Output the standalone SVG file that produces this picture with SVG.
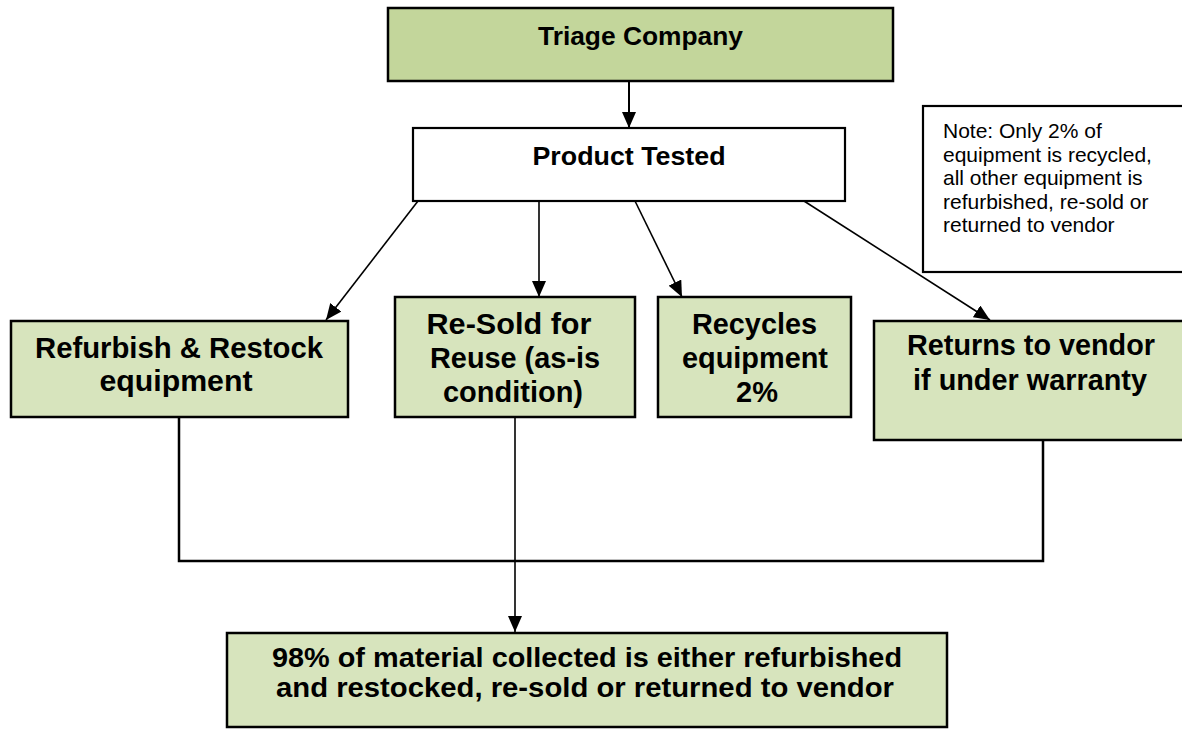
<svg xmlns="http://www.w3.org/2000/svg" width="1182" height="729" viewBox="0 0 1182 729">
<style>
.box{fill:#d7e4bd;stroke:#000;stroke-width:2.5}
.top{fill:#c3d69b;stroke:#000;stroke-width:2.5}
.plain{fill:#fff;stroke:#000;stroke-width:2.2}
.t{font-family:"Liberation Sans",Arial,sans-serif;font-weight:bold;fill:#000;text-anchor:middle}
.n{font-family:"Liberation Sans",Arial,sans-serif;font-size:21px;fill:#000}
.c{fill:none;stroke:#000;stroke-width:1.6}
.e{fill:none;stroke:#000;stroke-width:2.5}
</style>
<defs>
<marker id="ah" markerUnits="userSpaceOnUse" markerWidth="17" markerHeight="14" viewBox="0 0 17 14" refX="16" refY="7" orient="auto">
<path d="M0,0 L16,7 L0,14 Z" fill="#000"/>
</marker>
</defs>
<rect width="1182" height="729" fill="#fff"/>
<g id="connectors">
<line class="c" x1="629" y1="81" x2="629" y2="128" marker-end="url(#ah)" style="stroke-width:2"/>
<line class="c" x1="418" y1="201" x2="326" y2="320" marker-end="url(#ah)"/>
<line class="c" x1="539" y1="201" x2="539" y2="297" marker-end="url(#ah)"/>
<line class="c" x1="635" y1="201" x2="682" y2="297" marker-end="url(#ah)"/>
<line class="c" x1="804" y1="201" x2="990" y2="320" marker-end="url(#ah)"/>
<polyline class="e" points="179,417 179,561 1043,561 1043,440"/>
<line class="c" x1="515" y1="417" x2="515" y2="632" marker-end="url(#ah)"/>
</g>
<g id="triage">
<rect class="top" x="388" y="8" width="505" height="73"/>
<text class="t" x="640.5" y="45" font-size="26" textLength="205" lengthAdjust="spacingAndGlyphs">Triage Company</text>
</g>
<g id="tested">
<rect class="plain" x="413" y="128" width="432" height="73"/>
<text class="t" x="629" y="165" font-size="26" textLength="193" lengthAdjust="spacingAndGlyphs">Product Tested</text>
</g>
<g id="note">
<rect class="plain" x="923" y="106" width="270" height="166"/>
<text class="n" x="943" y="138">Note: Only 2% of</text>
<text class="n" x="943" y="161.5">equipment is recycled,</text>
<text class="n" x="943" y="185">all other equipment is</text>
<text class="n" x="943" y="208.5">refurbished, re-sold or</text>
<text class="n" x="943" y="232">returned to vendor</text>
</g>
<g id="refurbish">
<rect class="box" x="11" y="321" width="337" height="96"/>
<text class="t" x="179" y="358" font-size="29" textLength="288" lengthAdjust="spacingAndGlyphs">Refurbish &amp; Restock</text>
<text class="t" x="176" y="391" font-size="29" textLength="153" lengthAdjust="spacingAndGlyphs">equipment</text>
</g>
<g id="resold">
<rect class="box" x="395" y="297" width="240" height="120"/>
<text class="t" x="509" y="334" font-size="29" textLength="165" lengthAdjust="spacingAndGlyphs">Re-Sold for</text>
<text class="t" x="515" y="368" font-size="29" textLength="170" lengthAdjust="spacingAndGlyphs">Reuse (as-is</text>
<text class="t" x="513" y="402" font-size="29" textLength="140" lengthAdjust="spacingAndGlyphs">condition)</text>
</g>
<g id="recycles">
<rect class="box" x="658" y="297" width="193" height="120"/>
<text class="t" x="754.5" y="334" font-size="29" textLength="125" lengthAdjust="spacingAndGlyphs">Recycles</text>
<text class="t" x="755" y="368" font-size="29" textLength="146" lengthAdjust="spacingAndGlyphs">equipment</text>
<text class="t" x="757" y="402" font-size="29">2%</text>
</g>
<g id="returns">
<rect class="box" x="874" y="321" width="320" height="119"/>
<text class="t" x="1031" y="355" font-size="29" textLength="248" lengthAdjust="spacingAndGlyphs">Returns to vendor</text>
<text class="t" x="1030" y="390" font-size="29" textLength="234" lengthAdjust="spacingAndGlyphs">if under warranty</text>
</g>
<g id="result">
<rect class="box" x="227" y="633" width="720" height="94"/>
<text class="t" x="587" y="667" font-size="27" textLength="630" lengthAdjust="spacingAndGlyphs">98% of material collected is either refurbished</text>
<text class="t" x="585" y="697" font-size="27" textLength="618" lengthAdjust="spacingAndGlyphs">and restocked, re-sold or returned to vendor</text>
</g>
</svg>
